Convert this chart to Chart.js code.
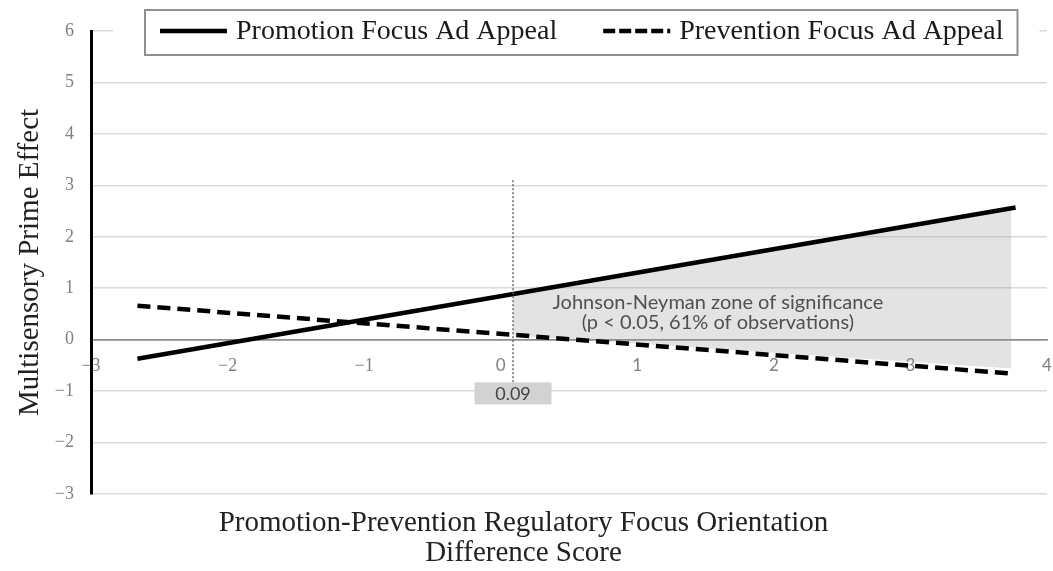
<!DOCTYPE html>
<html>
<head>
<meta charset="utf-8">
<script src="https://cdn.jsdelivr.net/npm/chart.js@4.4.1/dist/chart.umd.min.js"></script>
<style>
  html, body { margin: 0; padding: 0; background: #fff; }
  canvas { display: block; }
</style>
</head>
<body>
<canvas id="chart" width="1053" height="571"></canvas>
<script>
// Simple slopes of the prime effect for each ad appeal
const promotionX = [-2.66, 3.77];
const promotionY = [-0.37, 2.57];
const preventionX = [-2.66, 3.75];
const preventionY = [0.66, -0.66];

// Johnson-Neyman zone: band between the two slopes to the right of the transition point
const zoneX = [0.09, 3.74];
const zoneUpper = [0.89, 2.55];
const zoneLower = [0.08, -0.56];
const jnPoint = 0.09;

const seriesLabels = ['Promotion Focus Ad Appeal', 'Prevention Focus Ad Appeal'];
const zoneText = ['Johnson-Neyman zone of significance', '(p < 0.05, 61% of observations)'];
const xTicks = [-3, -2, -1, 0, 1, 2, 3, 4];
const yTicks = [-3, -2, -1, 0, 1, 2, 3, 4, 5, 6];
const xTitle = ['Promotion-Prevention Regulatory Focus Orientation', 'Difference Score'];
const yTitle = 'Multisensory Prime Effect';

const SERIF = '"Liberation Serif", "Times New Roman", serif';
const SANS = 'Lato, "Open Sans", sans-serif';

const pts = (xs, ys) => xs.map((x, i) => ({ x: x, y: ys[i] }));
const fmt = (v) => String(v).replace('-', '\u2212');

// Boxed legend drawn across the top of the plot
const boxedLegend = {
  id: 'boxedLegend',
  afterDraw(chart) {
    const { ctx, chartArea } = chart;
    const items = chart.data.datasets.filter(d => d.showInLegend);
    ctx.save();
    ctx.font = '28px ' + SERIF;
    const sampleW = 67, padL = 15, padR = 14, gapText = 9, gapItem = 46;
    const widths = items.map(d => ctx.measureText(d.label).width);
    let boxW = padL + padR + gapItem * (items.length - 1);
    widths.forEach(w => { boxW += sampleW + gapText + w; });
    const boxLeft = chartArea.left + 54;
    const boxTop = chartArea.top - 21;
    const boxH = 45;
    const cy = chartArea.top;

    ctx.fillStyle = '#fff';
    ctx.fillRect(chartArea.left + 22, cy - 13, boxW + 32 + 22, 26);
    ctx.fillRect(boxLeft, boxTop, boxW, boxH);
    ctx.strokeStyle = '#8f8f8f';
    ctx.lineWidth = 2;
    ctx.strokeRect(boxLeft, boxTop, boxW, boxH);

    let x = boxLeft + padL;
    items.forEach((d, i) => {
      ctx.save();
      ctx.strokeStyle = d.borderColor;
      ctx.lineWidth = d.borderWidth;
      ctx.setLineDash(d.borderDash ? [12, 4] : []);
      ctx.beginPath();
      ctx.moveTo(x, cy);
      ctx.lineTo(x + sampleW, cy);
      ctx.stroke();
      ctx.restore();
      x += sampleW + gapText;
      ctx.fillStyle = '#1a1a1a';
      ctx.textBaseline = 'alphabetic';
      ctx.textAlign = 'left';
      ctx.fillText(d.label, x, cy + 8);
      x += widths[i] + gapItem;
    });
    ctx.restore();
  }
};

// Transition-point marker and zone caption
const jnAnnotation = {
  id: 'jnAnnotation',
  afterDatasetsDraw(chart) {
    const { ctx, scales: { x, y } } = chart;
    const px = x.getPixelForValue(jnPoint);
    const boxTop = y.getPixelForValue(-0.83);
    ctx.save();
    ctx.strokeStyle = '#555';
    ctx.lineWidth = 1.3;
    ctx.setLineDash([2, 2]);
    ctx.beginPath();
    ctx.moveTo(px, y.getPixelForValue(3.1));
    ctx.lineTo(px, boxTop);
    ctx.stroke();
    ctx.setLineDash([]);

    const bw = 77, bh = 22;
    ctx.fillStyle = '#d2d2d2';
    ctx.fillRect(px - bw / 2, boxTop, bw, bh);
    ctx.fillStyle = '#444';
    ctx.font = '18px ' + SANS;
    ctx.textAlign = 'center';
    ctx.textBaseline = 'middle';
    ctx.fillText(jnPoint.toFixed(2), px, boxTop + bh / 2 + 1);

    ctx.fillStyle = '#505050';
    ctx.font = '20px ' + SANS;
    const tx = x.getPixelForValue(1.59);
    ctx.fillText(zoneText[0], tx, y.getPixelForValue(0.72));
    ctx.fillText(zoneText[1], tx, y.getPixelForValue(0.33));
    ctx.restore();
  }
};

new Chart(document.getElementById('chart'), {
  type: 'line',
  data: {
    datasets: [
      {
        label: seriesLabels[0],
        showInLegend: true,
        data: pts(promotionX, promotionY),
        borderColor: '#000',
        borderWidth: 4.5,
        pointRadius: 0,
        fill: false,
        order: 0
      },
      {
        label: seriesLabels[1],
        showInLegend: true,
        data: pts(preventionX, preventionY),
        borderColor: '#000',
        borderWidth: 4.5,
        borderDash: [13, 7],
        pointRadius: 0,
        fill: false,
        order: 1
      },
      {
        label: 'zone upper',
        data: pts(zoneX, zoneUpper),
        borderWidth: 0,
        borderColor: 'rgba(0,0,0,0)',
        backgroundColor: 'rgba(150,150,150,0.27)',
        pointRadius: 0,
        fill: '+1',
        order: 3
      },
      {
        label: 'zone lower',
        data: pts(zoneX, zoneLower),
        borderWidth: 0,
        borderColor: 'rgba(0,0,0,0)',
        pointRadius: 0,
        fill: false,
        order: 4
      }
    ]
  },
  options: {
    responsive: false,
    animation: false,
    devicePixelRatio: 1,
    layout: { padding: { top: 31, right: 6, bottom: 0, left: 0 } },
    plugins: {
      legend: { display: false },
      tooltip: { enabled: false },
      title: {
        display: true,
        position: 'bottom',
        text: xTitle,
        color: '#222',
        font: { family: SERIF, size: 29, weight: 'normal', lineHeight: '30px' },
        padding: { top: 14, bottom: 3 }
      }
    },
    scales: {
      x: {
        type: 'linear',
        position: { y: 0 },
        min: -3,
        max: 4,
        afterBuildTicks: (s) => { s.ticks = xTicks.map(v => ({ value: v })); },
        grid: { display: false, drawTicks: true, tickLength: 16 },
        border: { color: '#8c8c8c', width: 1.5 },
        ticks: {
          color: '#7f7f7f',
          padding: 0,
          callback: (v) => fmt(v),
          font: (ctx) => ({
            family: ctx.tick && ctx.tick.value < 0 ? SERIF : SANS,
            size: ctx.tick && ctx.tick.value < 0 ? 18 : 17
          })
        }
      },
      y: {
        type: 'linear',
        min: -3,
        max: 6,
        afterBuildTicks: (s) => { s.ticks = yTicks.map(v => ({ value: v })); },
        afterFit: (s) => { s.width = 91; },
        grid: {
          drawTicks: false,
          lineWidth: 1.5,
          color: (ctx) => (ctx.tick && ctx.tick.value === 0 ? '#8c8c8c' : '#d9d9d9')
        },
        border: { color: '#000', width: 3 },
        ticks: {
          color: '#7f7f7f',
          padding: 17,
          callback: (v) => fmt(v),
          font: { family: SERIF, size: 18 }
        },
        title: {
          display: true,
          text: yTitle,
          color: '#222',
          font: { family: SERIF, size: 29, weight: 'normal' },
          padding: { top: 13, bottom: 0 }
        }
      }
    }
  },
  plugins: [jnAnnotation, boxedLegend]
});
</script>
</body>
</html>
